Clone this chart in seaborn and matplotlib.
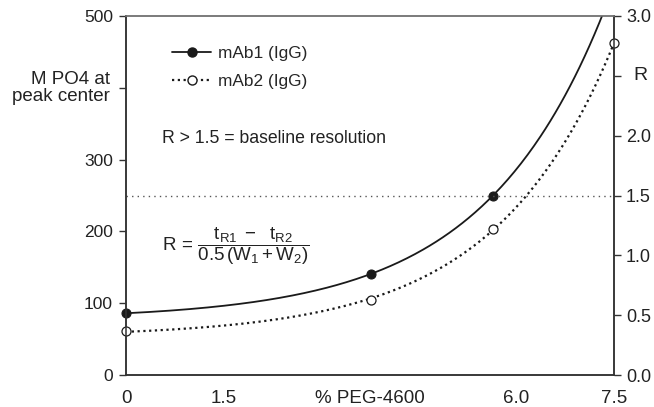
import numpy as np
import matplotlib
matplotlib.use("Agg")
import matplotlib.pyplot as plt
import seaborn as sns
from matplotlib.lines import Line2D

# Measured points: PEG-4600 concentration vs phosphate molarity at peak center
peg_mab1 = [0.0, 3.77, 5.64]
po4_mab1 = [86, 141, 250]
peg_mab2 = [0.0, 3.77, 5.64, 7.5]
po4_mab2 = [61, 105, 203, 462]
series_labels = ["mAb1 (IgG)", "mAb2 (IgG)"]

x_ticks = [0, 1.5, 3.0, 4.5, 6.0, 7.5]
x_ticklabels = ["0", "1.5", "", "", "6.0", "7.5"]
x_title = "% PEG-4600"
y_ticks = [0, 100, 200, 300, 400, 500]
y_ticklabels = ["0", "100", "200", "300", "", "500"]
y_title = "M PO4 at\npeak center"
r_ticks = [0.0, 0.5, 1.0, 1.5, 2.0, 2.5, 3.0]
r_ticklabels = ["0.0", "0.5", "1.0", "1.5", "2.0", "", "3.0"]
r_title = "R"
r_baseline = 1.5


def exp_trend(x, y):
    """Least-squares fit of y = a + b*exp(c*x), scanning c."""
    x = np.asarray(x, float)
    y = np.asarray(y, float)
    best = None
    for c in np.linspace(0.05, 1.5, 2901):
        A = np.column_stack([np.ones_like(x), np.exp(c * x)])
        coef = np.linalg.lstsq(A, y, rcond=None)[0]
        err = np.sum((A @ coef - y) ** 2)
        if best is None or err < best[0]:
            best = (err, c, coef)
    _, c, (a, b) = best
    return lambda t: a + b * np.exp(c * t)


sns.set_theme(style="white")
plt.rcParams["font.family"] = ["Liberation Sans", "DejaVu Sans"]
plt.rcParams["mathtext.fontset"] = "custom"
plt.rcParams["mathtext.rm"] = "Liberation Sans"
plt.rcParams["mathtext.it"] = "Liberation Sans"

fig = plt.figure(figsize=(6.54, 4.07), dpi=100)
ax = fig.add_axes([126 / 654, 1 - 375 / 407, 488 / 654, 359 / 407])
ax2 = ax.twinx()

xs = np.linspace(0, 7.5, 300)
fit1 = exp_trend(peg_mab1, po4_mab1)
fit2 = exp_trend(peg_mab2, po4_mab2)

dark = "#1a1a1a"
txt = "#222222"
sns.lineplot(x=xs, y=fit1(xs), ax=ax, color=dark, lw=1.3, zorder=3)
sns.lineplot(x=xs, y=fit2(xs), ax=ax, color=dark, lw=1.6,
             linestyle=(0, (1, 1.6)), zorder=3)
sns.scatterplot(x=peg_mab1, y=po4_mab1, ax=ax, color=dark, s=42,
                edgecolor=dark, linewidth=0.8, zorder=5, clip_on=False)
sns.scatterplot(x=peg_mab2, y=po4_mab2, ax=ax, color="white", s=42,
                edgecolor=dark, linewidth=0.9, zorder=5, clip_on=False)

ax.set_xlim(0, 7.5)
ax.set_ylim(0, 500)
ax2.set_ylim(0, 3.0)
ax2.axhline(r_baseline, color="#555555", lw=1.0, linestyle=(0, (1, 3)), zorder=1)

ax.set_xticks(x_ticks)
ax.set_xticklabels(x_ticklabels, fontsize=13.5)
# axis title sits on the tick-label row, between the 3.0 and 4.5 ticks
ax.set_xticks([3.75], minor=True)
ax.set_xticklabels([x_title], minor=True, fontsize=13.5)
ax.set_yticks(y_ticks)
ax.set_yticklabels(y_ticklabels, fontsize=12.5)
ax2.set_yticks(r_ticks)
ax2.set_yticklabels(r_ticklabels, fontsize=13)

for a in (ax, ax2):
    a.tick_params(axis="both", which="major", direction="out", length=5,
                  width=1.0, color="#333333", labelcolor=txt, pad=4.3)
    a.set_xlabel("")
    a.set_ylabel("")
    for side in ("left", "bottom", "right"):
        a.spines[side].set_color("#333333")
        a.spines[side].set_linewidth(1.1)
    a.spines["top"].set_color("#777777")
    a.spines["top"].set_linewidth(1.1)
ax2.tick_params(axis="y", pad=3.6)
ax.tick_params(axis="x", which="major", pad=5.8)
ax.tick_params(axis="x", which="minor", length=0, pad=10.8, labelcolor=txt)

# Axis titles placed at the unlabeled tick positions
ax.text(-0.033, 400, y_title, transform=ax.get_yaxis_transform(),
        ha="right", va="center", fontsize=13.5, color=txt, linespacing=1.0)
ax2.text(1.039, 2.5, r_title, transform=ax2.get_yaxis_transform(),
         ha="left", va="center", fontsize=14, color=txt)

ax.text(0.55, 330, "R > 1.5 = baseline resolution", fontsize=12.7,
        color=txt, va="center")
ax.text(0.55, 180,
        r"$\mathrm{R}\,=\,\dfrac{\mathrm{t_{R1}\ -\ \ t_{R2}}}{\mathrm{0.5\,(W_1 + W_2)}}$",
        fontsize=13.5, color=txt, va="center")

handles = [
    Line2D([0], [0], color=dark, lw=1.3, marker="o", markersize=6.5,
           markerfacecolor=dark, markeredgecolor=dark),
    Line2D([0], [0], color=dark, lw=1.6, linestyle=(0, (1, 1.6)), marker="o",
           markersize=6.5, markerfacecolor="white", markeredgecolor=dark),
]
ax.legend(handles, series_labels, loc="upper left", bbox_to_anchor=(0.062, 0.96),
          frameon=False, fontsize=12.4, handlelength=2.3, handletextpad=0.4,
          labelspacing=0.75)

fig.savefig("out.png", dpi=100)
